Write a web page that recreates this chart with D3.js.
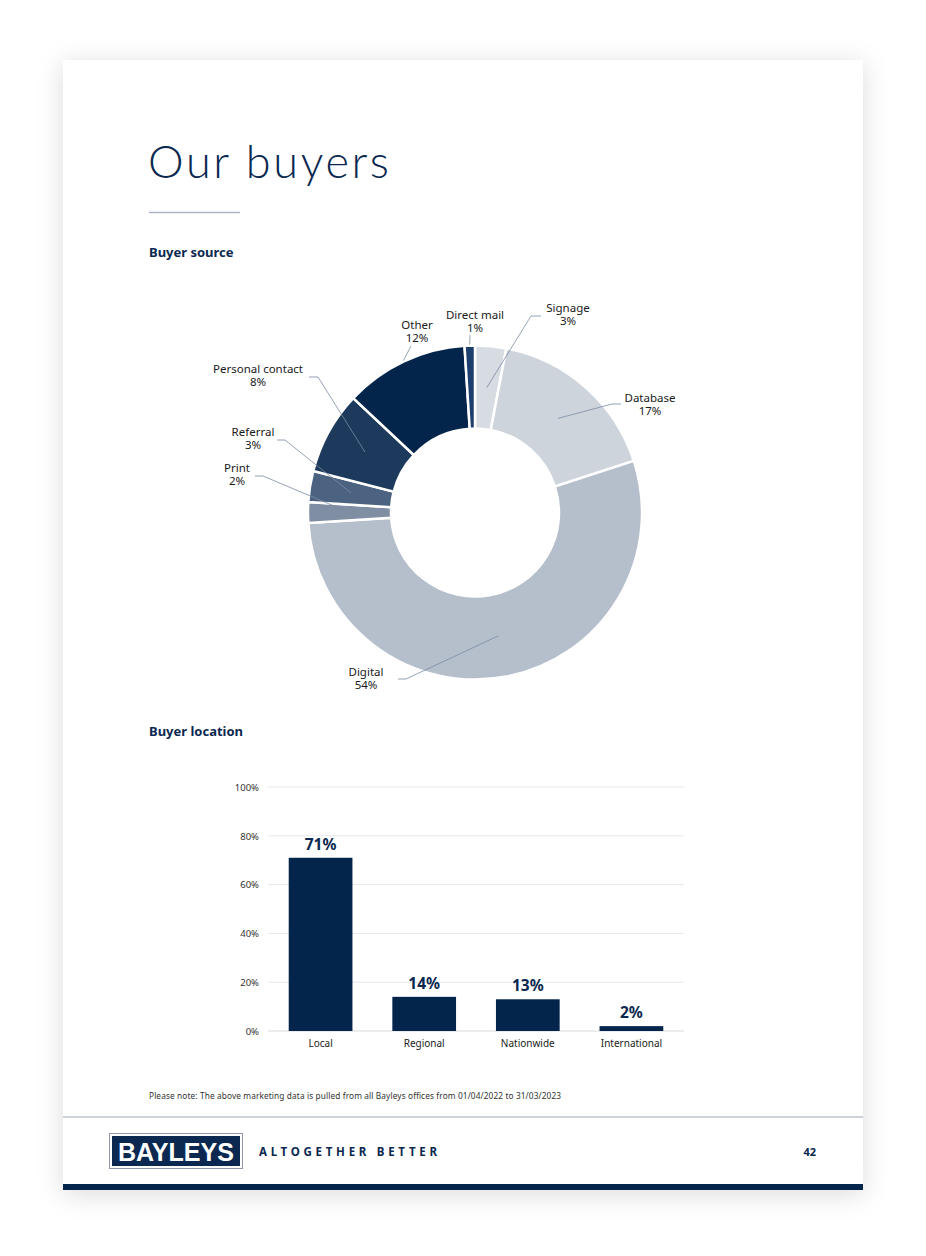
<!DOCTYPE html>
<html><head><meta charset="utf-8">
<script src="https://cdn.jsdelivr.net/npm/d3@7"></script>
<style>
html,body{margin:0;padding:0;background:#fff;}
svg{display:block;}
text{font-family:"Noto Sans","Open Sans",sans-serif;}
</style></head>
<body>
<svg id="page" width="926" height="1256"></svg>
<script>
// ---- data ----
const sourceCategories = ["Signage","Database","Digital","Print","Referral","Personal contact","Other","Direct mail"];
const sourceValues = [3,17,54,2,3,8,12,1];
const locationCategories = ["Local","Regional","Nationwide","International"];
const locationValues = [71,14,13,2];
const yTickValues = [0,20,40,60,80,100];

// ---- styles/layout ----
const navy = "#0a2850";
const sliceColors = ["#d7dbe2","#cdd4dc","#b5becb","#7f8ea3","#4b6381","#1d3a5c","#03254b","#1c3f6e"];
// label placement (layout only): text anchor, elbow points
const labelLayout = [
  {x:568,y:312, pts:[[531,316],[541,316]]},
  {x:650,y:402, pts:[[612,404],[621,404]]},
  {x:366,y:676, pts:[[406,679],[398,679]]},
  {x:237,y:472, pts:[[263,476],[255,476]]},
  {x:253,y:436, pts:[[285,440],[277,440]]},
  {x:258,y:373, pts:[[318,377],[309,377]]},
  {x:417,y:329, pts:[[411,346]], r:168},
  {x:475,y:319, pts:[[470,335]], r:168}
];

const svg = d3.select("#page");
const defs = svg.append("defs");
const f = defs.append("filter").attr("id","sh").attr("x","-10%").attr("y","-10%").attr("width","120%").attr("height","120%");
f.append("feDropShadow").attr("dx",0).attr("dy",4).attr("stdDeviation",13).attr("flood-color","#000").attr("flood-opacity",0.14);

// page
svg.append("rect").attr("x",63).attr("y",60).attr("width",800).attr("height",1130).attr("fill","#fff").attr("filter","url(#sh)");

// title
svg.append("text").attr("x",148).attr("y",178).attr("fill",navy)
  .style("font-family","Lato, 'Noto Sans', sans-serif").style("font-weight",300).style("font-size","45px")
  .attr("textLength",241).attr("lengthAdjust","spacing")
  .text("Our buyers");
svg.append("line").attr("x1",149).attr("x2",240).attr("y1",212.5).attr("y2",212.5).attr("stroke","#aab6c6").attr("stroke-width",1.5);

svg.append("text").attr("x",149).attr("y",257).attr("fill",navy).style("font-weight",700).style("font-size","13px").text("Buyer source");
svg.append("text").attr("x",149).attr("y",736).attr("fill",navy).style("font-weight",700).style("font-size","13px").text("Buyer location");

// ---- donut ----
const cx = 475, cy = 512.5, R = 167, r0 = 84;
const pie = d3.pie().sort(null).value(d=>d)(sourceValues);
const arc = d3.arc().innerRadius(r0).outerRadius(R);
const g = svg.append("g").attr("transform",`translate(${cx},${cy})`);
g.selectAll("path").data(pie).join("path")
  .attr("d",arc).attr("fill",(d,i)=>sliceColors[i]).attr("stroke","#fff").attr("stroke-width",2.5);

// leader lines
const line = d3.line();
pie.forEach((d,i)=>{
  const L = labelLayout[i];
  let start;
  if (L.r) {
    const a = (d.startAngle+d.endAngle)/2;
    start = [cx + L.r*Math.sin(a), cy - L.r*Math.cos(a)];
  } else {
    const c = arc.centroid(d);
    start = [cx + c[0], cy + c[1]];
  }
  svg.append("path").attr("d", line([start, ...L.pts])).attr("fill","none").attr("stroke","#7c8ca3").attr("stroke-width",0.8);
  const t = svg.append("text").attr("x",L.x).attr("y",L.y).attr("text-anchor","middle").attr("fill","#1a1a1a").style("font-size","11.5px");
  t.append("tspan").attr("x",L.x).text(sourceCategories[i]);
  t.append("tspan").attr("x",L.x).attr("dy",13).text(sourceValues[i]+"%");
});

// ---- bar chart ----
const x = d3.scaleBand().domain(locationCategories).range([268,684]).paddingInner(0.385).paddingOuter(0.2);
const y = d3.scaleLinear().domain([0,100]).range([1031,787]);

const grid = svg.append("g");
grid.selectAll("line").data(yTickValues).join("line")
  .attr("x1",268).attr("x2",684).attr("y1",d=>y(d)).attr("y2",d=>y(d))
  .attr("stroke",d=>d===0?"#d6dade":"#e4e7eb").attr("stroke-width",1);

const yAxis = d3.axisLeft(y).tickValues(yTickValues).tickFormat(d=>d+"%").tickSize(0).tickPadding(0);
const ya = svg.append("g").attr("transform","translate(259,0)").call(yAxis);
ya.select(".domain").remove();
ya.selectAll("text").attr("fill","#333").style("font-size","9.5px").attr("dy","0.35em");

svg.append("g").selectAll("rect").data(locationValues).join("rect")
  .attr("x",(d,i)=>x(locationCategories[i])).attr("width",x.bandwidth())
  .attr("y",d=>y(d)).attr("height",d=>y(0)-y(d)).attr("fill","#03254b");

svg.append("g").selectAll("text").data(locationValues).join("text")
  .attr("x",(d,i)=>x(locationCategories[i])+x.bandwidth()/2).attr("y",d=>y(d)-8)
  .attr("text-anchor","middle").attr("fill","#0a2850").style("font-weight",700).style("font-size","15.5px")
  .text(d=>d+"%");

const xAxis = d3.axisBottom(x).tickSize(0).tickPadding(0);
const xa = svg.append("g").attr("transform","translate(0,1047)").call(xAxis);
xa.select(".domain").remove();
xa.selectAll("text").attr("fill","#222").style("font-size","10px").attr("dy","0");

// note
svg.append("text").attr("x",149).attr("y",1099).attr("fill","#333").style("font-size","8.3px")
  .attr("textLength",412).attr("lengthAdjust","spacing")
  .text("Please note: The above marketing data is pulled from all Bayleys offices from 01/04/2022 to 31/03/2023");

// footer
svg.append("line").attr("x1",63).attr("x2",863).attr("y1",1117).attr("y2",1117).attr("stroke","#9aa5b4").attr("stroke-width",1);
svg.append("rect").attr("x",109.5).attr("y",1133.5).attr("width",133).attr("height",35).attr("fill","#fff").attr("stroke","#8d99aa").attr("stroke-width",1);
svg.append("rect").attr("x",112).attr("y",1136).attr("width",128).attr("height",30).attr("fill","#0a2850");
svg.append("text").attr("x",176).attr("y",1161).attr("text-anchor","middle").attr("fill","#fff")
  .style("font-family","'Liberation Sans Narrow','Liberation Sans',Arial,sans-serif").style("font-weight",700).style("font-size","25px")
  .attr("textLength",116).attr("lengthAdjust","spacingAndGlyphs").text("BAYLEYS");
svg.append("text").attr("x",259).attr("y",1156).attr("fill",navy).style("font-weight",700).style("font-size","11.5px")
  .attr("textLength",178).attr("lengthAdjust","spacing").text("ALTOGETHER BETTER");
svg.append("text").attr("x",816).attr("y",1156).attr("text-anchor","end").attr("fill",navy).style("font-weight",700).style("font-size","11px").text("42");
svg.append("rect").attr("x",63).attr("y",1184).attr("width",800).attr("height",6).attr("fill","#03254b");
</script>
</body></html>
